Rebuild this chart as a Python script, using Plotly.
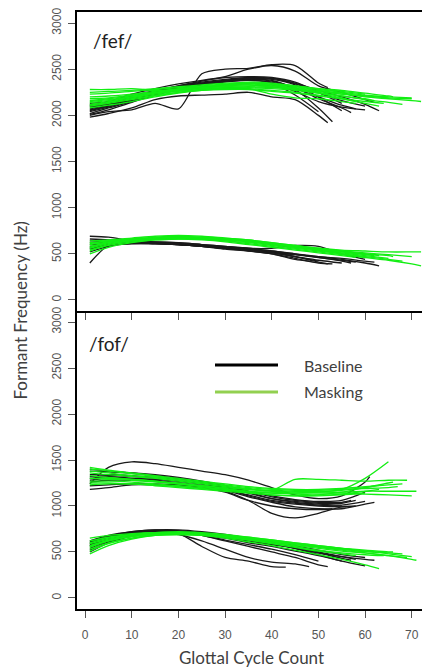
import plotly.graph_objects as go

# ---------------- data ----------------
GRID = [1, 5, 10, 15, 20, 25, 30, 35, 40, 45, 50, 55, 60, 65, 70]
X_TICKS = [0, 10, 20, 30, 40, 50, 60, 70]
Y_TICKS = [0, 500, 1000, 1500, 2000, 2500, 3000]
PANEL_LABELS = ["/fef/", "/fof/"]
LEGEND_NAMES = ["Baseline", "Masking"]

# /fef/ F2, baseline
FEF_F2_BASE_ENDS = [52, 53, 55, 57, 60, 63, 52, 50, 62, 58, 55, 60]
FEF_F2_BASE = [
    [2000, 2040, 2060, 2130, 2070, 2450, 2500, 2510, 2550, 2540, 2350, 2300],
    [2050, 2100, 2170, 2240, 2300, 2340, 2370, 2390, 2380, 2280, 2080, 1930],
    [2100, 2130, 2200, 2260, 2310, 2350, 2380, 2400, 2390, 2330, 2200, 2050],
    [2020, 2080, 2150, 2230, 2290, 2340, 2370, 2390, 2370, 2300, 2180, 2080, 2030],
    [2130, 2150, 2210, 2270, 2320, 2360, 2390, 2410, 2400, 2340, 2250, 2160, 2100],
    [2070, 2110, 2180, 2250, 2310, 2350, 2380, 2400, 2400, 2350, 2270, 2200, 2120, 2050],
    [1980, 2020, 2080, 2170, 2210, 2220, 2230, 2250, 2200, 2170, 2000, 1920],
    [2010, 2060, 2140, 2220, 2280, 2330, 2360, 2380, 2350, 2220, 2040],
    [2090, 2120, 2190, 2260, 2320, 2370, 2420, 2500, 2540, 2480, 2320, 2250, 2170, 2140],
    [2040, 2090, 2160, 2240, 2300, 2340, 2370, 2380, 2360, 2290, 2200, 2110, 2070],
    [2110, 2150, 2230, 2290, 2340, 2380, 2410, 2420, 2410, 2360, 2250, 2130],
    [2060, 2100, 2170, 2230, 2270, 2300, 2330, 2350, 2330, 2260, 2150, 2090, 2060],
]
# /fef/ F2, masking
FEF_F2_MASK_ENDS = [72, 70, 68, 65, 63, 60, 58, 66, 62, 70, 56, 64]
FEF_F2_MASK = [
    [2150, 2170, 2200, 2240, 2270, 2300, 2320, 2330, 2320, 2300, 2270, 2240, 2200, 2180, 2160, 2150],
    [2280, 2280, 2290, 2270, 2280, 2300, 2320, 2330, 2310, 2290, 2260, 2230, 2210, 2190, 2180],
    [2100, 2130, 2170, 2210, 2250, 2280, 2300, 2310, 2300, 2280, 2250, 2210, 2170, 2140, 2120],
    [2200, 2210, 2230, 2260, 2290, 2310, 2330, 2340, 2330, 2310, 2280, 2250, 2220, 2200],
    [2120, 2150, 2190, 2230, 2260, 2280, 2290, 2290, 2270, 2250, 2220, 2180, 2130, 2100],
    [2180, 2190, 2220, 2250, 2280, 2310, 2330, 2350, 2340, 2320, 2290, 2260, 2230],
    [2140, 2160, 2200, 2240, 2270, 2290, 2300, 2290, 2230, 2190, 2180, 2150, 2130],
    [2230, 2240, 2260, 2280, 2300, 2320, 2340, 2360, 2350, 2320, 2290, 2270, 2240, 2210, 2200],
    [2080, 2110, 2150, 2200, 2240, 2270, 2290, 2300, 2290, 2270, 2240, 2210, 2180, 2160],
    [2160, 2180, 2210, 2250, 2280, 2300, 2310, 2320, 2310, 2290, 2260, 2230, 2210, 2200, 2190],
    [2250, 2260, 2270, 2290, 2310, 2330, 2350, 2350, 2330, 2290, 2240, 2190, 2180],
    [2110, 2140, 2180, 2220, 2250, 2270, 2280, 2280, 2260, 2240, 2210, 2180, 2150, 2130],
]
# /fef/ F1, baseline
FEF_F1_BASE_ENDS = [52, 57, 63, 55, 60, 53, 58, 48, 62, 50]
FEF_F1_BASE = [
    [400, 590, 620, 620, 610, 590, 570, 550, 520, 470, 410, 390],
    [690, 680, 640, 630, 620, 600, 580, 560, 530, 500, 460, 420, 400],
    [560, 600, 620, 620, 610, 590, 570, 550, 530, 500, 470, 440, 400, 370],
    [600, 610, 620, 610, 600, 580, 560, 540, 510, 470, 430, 400],
    [640, 630, 630, 630, 620, 600, 580, 560, 560, 590, 580, 500, 440],
    [520, 580, 610, 610, 600, 580, 560, 530, 500, 450, 400, 390],
    [580, 600, 610, 610, 600, 580, 560, 540, 520, 490, 460, 430, 410],
    [620, 620, 620, 610, 600, 580, 550, 530, 500, 440, 420],
    [550, 590, 610, 610, 600, 590, 570, 550, 520, 490, 470, 450, 420, 410],
    [660, 650, 630, 620, 610, 590, 570, 540, 510, 470, 420],
]
# /fef/ F1, masking
FEF_F1_MASK_ENDS = [72, 72, 65, 68, 63, 60, 66, 58, 70, 62]
FEF_F1_MASK = [
    [540, 600, 640, 660, 670, 660, 640, 610, 580, 550, 520, 490, 460, 430, 390, 370],
    [610, 640, 660, 680, 690, 680, 670, 650, 620, 590, 560, 540, 530, 520, 520, 520],
    [580, 620, 650, 670, 680, 670, 650, 630, 600, 570, 540, 510, 480, 450],
    [500, 570, 620, 650, 660, 660, 640, 620, 590, 560, 530, 500, 470, 440, 420],
    [640, 650, 670, 690, 700, 690, 670, 650, 620, 590, 560, 530, 500, 480],
    [560, 610, 640, 660, 670, 660, 650, 630, 600, 570, 540, 500, 460],
    [620, 640, 660, 670, 680, 670, 660, 640, 610, 580, 550, 520, 500, 480, 470],
    [530, 590, 630, 650, 660, 650, 630, 600, 570, 540, 510, 480, 460],
    [600, 630, 650, 670, 680, 680, 660, 640, 610, 580, 550, 530, 510, 490, 470],
    [570, 620, 650, 670, 680, 670, 660, 640, 610, 580, 550, 520, 490, 480],
]
# /fof/ F2, baseline
FOF_F2_BASE_ENDS = [61, 55, 60, 58, 62, 57, 53, 60, 56, 58]
FOF_F2_BASE = [
    [1240, 1420, 1480, 1460, 1420, 1380, 1340, 1280, 1200, 1120, 1080, 1110, 1260, 1320],
    [1300, 1320, 1300, 1280, 1250, 1220, 1180, 1120, 1060, 1030, 1010, 1000],
    [1380, 1370, 1360, 1340, 1310, 1270, 1220, 1150, 1080, 1040, 1020, 1010, 1050],
    [1180, 1200, 1230, 1230, 1220, 1200, 1160, 1060, 920, 870, 920, 990, 1000],
    [1260, 1280, 1280, 1270, 1250, 1220, 1170, 1100, 1040, 990, 970, 970, 1020, 1040],
    [1340, 1340, 1330, 1310, 1290, 1260, 1220, 1160, 1100, 1060, 1040, 1040, 1060],
    [1220, 1230, 1240, 1240, 1230, 1200, 1150, 1060, 1000, 970, 960, 970],
    [1400, 1380, 1360, 1330, 1300, 1260, 1210, 1160, 1110, 1070, 1050, 1060, 1150],
    [1280, 1300, 1300, 1290, 1270, 1240, 1190, 1110, 1050, 1020, 1000, 990, 990],
    [1320, 1330, 1320, 1300, 1270, 1240, 1200, 1140, 1080, 1050, 1030, 1030, 1060],
]
# /fof/ F2, masking
FOF_F2_MASK_ENDS = [71, 69, 65, 68, 63, 70, 66, 60, 67, 64]
FOF_F2_MASK = [
    [1300, 1290, 1280, 1260, 1240, 1220, 1200, 1180, 1160, 1150, 1150, 1150, 1160, 1160, 1160, 1160],
    [1380, 1360, 1330, 1310, 1280, 1250, 1220, 1190, 1170, 1290, 1290, 1280, 1270, 1280, 1280],
    [1250, 1250, 1240, 1230, 1210, 1190, 1170, 1150, 1140, 1140, 1150, 1180, 1300, 1480],
    [1420, 1390, 1360, 1330, 1300, 1270, 1240, 1210, 1190, 1180, 1180, 1190, 1210, 1230, 1240],
    [1330, 1310, 1290, 1270, 1250, 1220, 1190, 1160, 1140, 1130, 1120, 1130, 1160, 1180],
    [1270, 1270, 1260, 1240, 1220, 1200, 1180, 1160, 1150, 1140, 1140, 1140, 1130, 1120, 1110],
    [1360, 1340, 1320, 1300, 1270, 1240, 1210, 1180, 1170, 1160, 1160, 1170, 1200, 1250, 1260],
    [1300, 1300, 1290, 1270, 1240, 1210, 1180, 1150, 1120, 1110, 1110, 1120, 1140],
    [1400, 1380, 1350, 1320, 1290, 1260, 1230, 1200, 1180, 1170, 1170, 1180, 1190, 1200, 1210],
    [1230, 1240, 1240, 1220, 1200, 1180, 1160, 1140, 1120, 1110, 1120, 1150, 1200, 1230],
]
# /fof/ F1, baseline
FOF_F1_BASE_ENDS = [43, 48, 52, 60, 55, 58, 62, 50, 57, 60]
FOF_F1_BASE = [
    [560, 640, 700, 720, 700, 560, 440, 400, 340, 335],
    [540, 620, 690, 710, 690, 620, 530, 440, 390, 370, 340],
    [580, 650, 710, 730, 720, 680, 620, 560, 500, 440, 360, 340],
    [600, 670, 720, 740, 740, 720, 690, 650, 600, 540, 470, 400, 350],
    [520, 610, 680, 710, 710, 690, 650, 600, 560, 510, 460, 400],
    [620, 680, 720, 740, 730, 710, 670, 630, 590, 550, 500, 450, 420],
    [570, 640, 700, 720, 720, 700, 670, 630, 590, 540, 490, 450, 420, 410],
    [590, 660, 710, 730, 720, 680, 630, 580, 530, 470, 400],
    [500, 600, 670, 700, 710, 690, 660, 620, 580, 540, 490, 430, 410],
    [610, 670, 710, 730, 730, 710, 680, 640, 610, 570, 520, 470, 440],
]
# /fof/ F1, masking
FOF_F1_MASK_ENDS = [71, 63, 66, 69, 60, 64, 68, 58, 62, 70]
FOF_F1_MASK = [
    [560, 620, 670, 700, 700, 690, 670, 640, 610, 580, 550, 520, 490, 460, 420, 410],
    [480, 570, 640, 680, 690, 680, 650, 610, 570, 520, 470, 420, 360, 320],
    [620, 660, 690, 710, 710, 700, 680, 650, 620, 590, 560, 540, 520, 500, 500],
    [530, 600, 650, 680, 690, 680, 660, 630, 600, 570, 540, 510, 490, 460, 440],
    [650, 680, 700, 710, 710, 700, 680, 650, 620, 590, 560, 530, 500],
    [510, 590, 650, 690, 700, 690, 670, 640, 600, 560, 520, 490, 470, 460],
    [590, 640, 680, 700, 710, 700, 680, 660, 630, 600, 570, 540, 510, 490, 480],
    [550, 620, 670, 700, 700, 690, 660, 630, 590, 550, 510, 480, 460],
    [600, 650, 690, 710, 720, 710, 690, 660, 630, 600, 570, 540, 510, 500],
    [570, 630, 670, 690, 700, 690, 670, 650, 620, 590, 560, 530, 510, 480, 450],
]

# ---------------- styling ----------------
BASE_COLOR = "#1a1a1a"
MASK_COLOR = "#12ee12"
LEG_BASE = "#000000"
LEG_MASK = "#92d050"
TEXT_COLOR = "#404040"
FONT = "Lato"


def xs_for(end, n):
    xs = [g for g in GRID if g < end][: n - 1] + [end]
    return xs


fig = go.Figure()

groups = [
    # (ends, values, color, xaxis, yaxis)
    (FEF_F2_BASE_ENDS, FEF_F2_BASE, BASE_COLOR, "x2", "y2"),
    (FEF_F1_BASE_ENDS, FEF_F1_BASE, BASE_COLOR, "x2", "y2"),
    (FOF_F2_BASE_ENDS, FOF_F2_BASE, BASE_COLOR, "x", "y"),
    (FOF_F1_BASE_ENDS, FOF_F1_BASE, BASE_COLOR, "x", "y"),
    (FEF_F2_MASK_ENDS, FEF_F2_MASK, MASK_COLOR, "x2", "y2"),
    (FEF_F1_MASK_ENDS, FEF_F1_MASK, MASK_COLOR, "x2", "y2"),
    (FOF_F2_MASK_ENDS, FOF_F2_MASK, MASK_COLOR, "x", "y"),
    (FOF_F1_MASK_ENDS, FOF_F1_MASK, MASK_COLOR, "x", "y"),
]
for ends, vals, color, xa, ya in groups:
    for end, v in zip(ends, vals):
        fig.add_trace(go.Scatter(
            x=xs_for(end, len(v)), y=v, mode="lines",
            line=dict(color=color, width=1.3, shape="spline", smoothing=0.8),
            xaxis=xa, yaxis=ya, showlegend=False, hoverinfo="skip",
        ))

SPLIT = 298 / 597

axis_common = dict(
    showgrid=False, zeroline=False, showline=True, linecolor="#000000",
    linewidth=1.5, ticks="outside", ticklen=7, tickcolor="#555555",
    tickfont=dict(family="Liberation Sans", size=12, color="#555555"),
)

fig.update_layout(
    width=422, height=668,
    margin=dict(l=77, r=0, t=12, b=59),
    paper_bgcolor="white", plot_bgcolor="white",
    showlegend=False,
    xaxis=dict(domain=[0, 1], anchor="y", range=[-1.75, 72.2],
               tickvals=X_TICKS, ticklabelstandoff=7, **axis_common),
    xaxis2=dict(domain=[0, 1], anchor="y2", range=[-1.75, 72.2], matches="x",
                tickvals=X_TICKS, showticklabels=False, mirror=True,
                **axis_common),
    yaxis=dict(domain=[0, SPLIT], anchor="x", range=[-120, 3120],
               tickvals=Y_TICKS, tickangle=-90, ticklabelstandoff=2,
               **axis_common),
    yaxis2=dict(domain=[SPLIT, 1], anchor="x2", range=[-120, 3120],
                tickvals=Y_TICKS, tickangle=-90, ticklabelstandoff=2,
                **axis_common),
)

# axis titles
fig.add_annotation(text="Formant Frequency (Hz)", xref="paper", yref="paper",
                   x=-0.165, y=0.5, textangle=-90, showarrow=False,
                   xanchor="center", yanchor="middle",
                   font=dict(family=FONT, size=17, color=TEXT_COLOR))
fig.add_annotation(text="Glottal Cycle Count", xref="paper", yref="paper",
                   x=0.507, y=-0.081, showarrow=False,
                   xanchor="center", yanchor="middle",
                   font=dict(family=FONT, size=17, color=TEXT_COLOR))

# panel labels
fig.add_annotation(text=PANEL_LABELS[0], xref="paper", yref="paper",
                   x=0.04, y=0.953, xanchor="left", yanchor="middle",
                   showarrow=False,
                   font=dict(family=FONT, size=19, color="#222222"))
fig.add_annotation(text=PANEL_LABELS[1], xref="paper", yref="paper",
                   x=0.03, y=0.445, xanchor="left", yanchor="middle",
                   showarrow=False,
                   font=dict(family=FONT, size=19, color="#222222"))


# legend (drawn manually: long sample lines)
def px_x(px):
    return (px - 77) / 345


def px_y(py):
    return (609 - py) / 597


for py, color, name in [(365, LEG_BASE, LEGEND_NAMES[0]), (392, LEG_MASK, LEGEND_NAMES[1])]:
    fig.add_shape(type="line", xref="paper", yref="paper",
                  x0=px_x(215), x1=px_x(278), y0=px_y(py), y1=px_y(py),
                  line=dict(color=color, width=3))
    fig.add_annotation(text=name, xref="paper", yref="paper",
                       x=px_x(302), y=px_y(py), xanchor="left", yanchor="middle",
                       showarrow=False,
                       font=dict(family=FONT, size=16, color=TEXT_COLOR))

fig.write_html(
    "out.html",
    config={"displayModeBar": False},
    post_script="document.body.style.margin='0';document.body.style.overflow='hidden';",
)
